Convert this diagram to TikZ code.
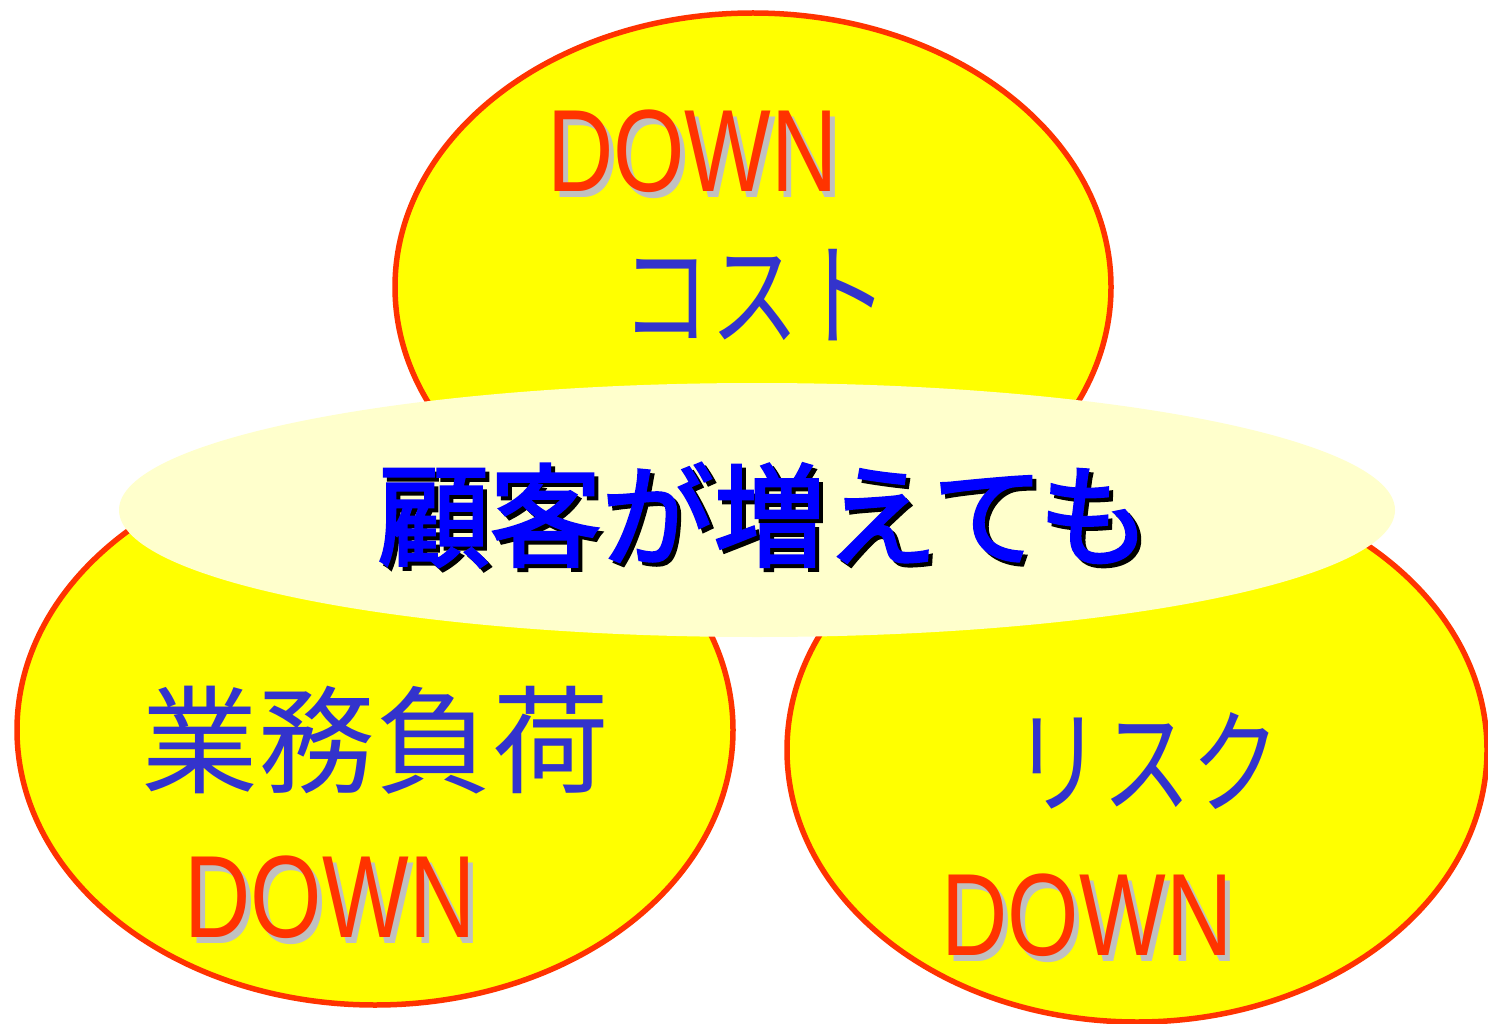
\documentclass[tikz,border=0pt]{standalone}
\usepackage{fontspec}
\setmainfont{Liberation Sans}
\newfontfamily\jp{Noto Sans CJK JP}
\newfontfamily\jpfb[FakeBold=2.5]{Noto Sans CJK JP}
\usetikzlibrary{shapes.geometric}
\definecolor{ored}{HTML}{FF3300}
\definecolor{yel}{HTML}{FFFF00}
\definecolor{pale}{HTML}{FFFFCC}
\definecolor{tblue}{HTML}{3333CC}
\definecolor{mblue}{HTML}{0000FF}
\definecolor{shgray}{HTML}{C0C0C0}
\begin{document}
\begin{tikzpicture}[x=1pt,y=-1pt,
  blob/.style={ellipse, draw=ored, line width=5.5pt, fill=yel, inner sep=0pt,
               minimum width=716pt, minimum height=548pt},
  down/.style={anchor=base, inner sep=0pt, text=ored,
               font=\fontsize{117}{117}\selectfont},
  downsh/.style={down, text=shgray},
  kana/.style={inner sep=0pt, text=tblue, font=\jp\fontsize{114}{114}\selectfont},
  kanji/.style={inner sep=0pt, text=tblue, font=\jp\fontsize{117}{117}\selectfont},
  maintext/.style={inner sep=0pt, text=mblue, font=\jpfb\fontsize{112}{112}\selectfont},
  mainsh/.style={maintext, text=black}]
\path[use as bounding box, fill=white] (0,0) rectangle (1488,1024);
% three yellow ellipses
\node[blob] (top) at (753,287) {};
\node[blob, minimum height=550pt] (bl) at (375,730) {};
\node[blob, minimum width=700pt, minimum height=544pt] (br) at (1137,750) {};
% central pale ellipse
\node[ellipse, fill=pale, inner sep=0pt, minimum width=1276pt, minimum height=254pt] (mid) at (757,510) {};
% top ellipse texts
\node[downsh] (topdowns) at (697.5,198) {\scalebox{0.785}[1]{DOWN}};
\node[down] (topdown) at (692.5,192) {\scalebox{0.785}[1]{DOWN}};
\node[kana] (cost) at (755,295) {\scalebox{0.78}[1]{コスト}};
% bottom-left texts
\node[kanji] (gyomu) at (375,740) {業務負荷};
\node[downsh] (bldowns) at (335,943) {\scalebox{0.785}[1]{DOWN}};
\node[down] (bldown) at (330,937) {\scalebox{0.785}[1]{DOWN}};
% bottom-right texts
\node[kana] (risk) at (1147,761) {\scalebox{0.78}[1]{リスク}};
\node[downsh] (brdowns) at (1092,961) {\scalebox{0.785}[1]{DOWN}};
\node[down] (brdown) at (1087,955) {\scalebox{0.785}[1]{DOWN}};
% central text
\node[mainsh] (mains) at (768,519) {顧客が増えても};
\node[maintext] (main) at (764,515) {顧客が増えても};
\end{tikzpicture}
\end{document}
